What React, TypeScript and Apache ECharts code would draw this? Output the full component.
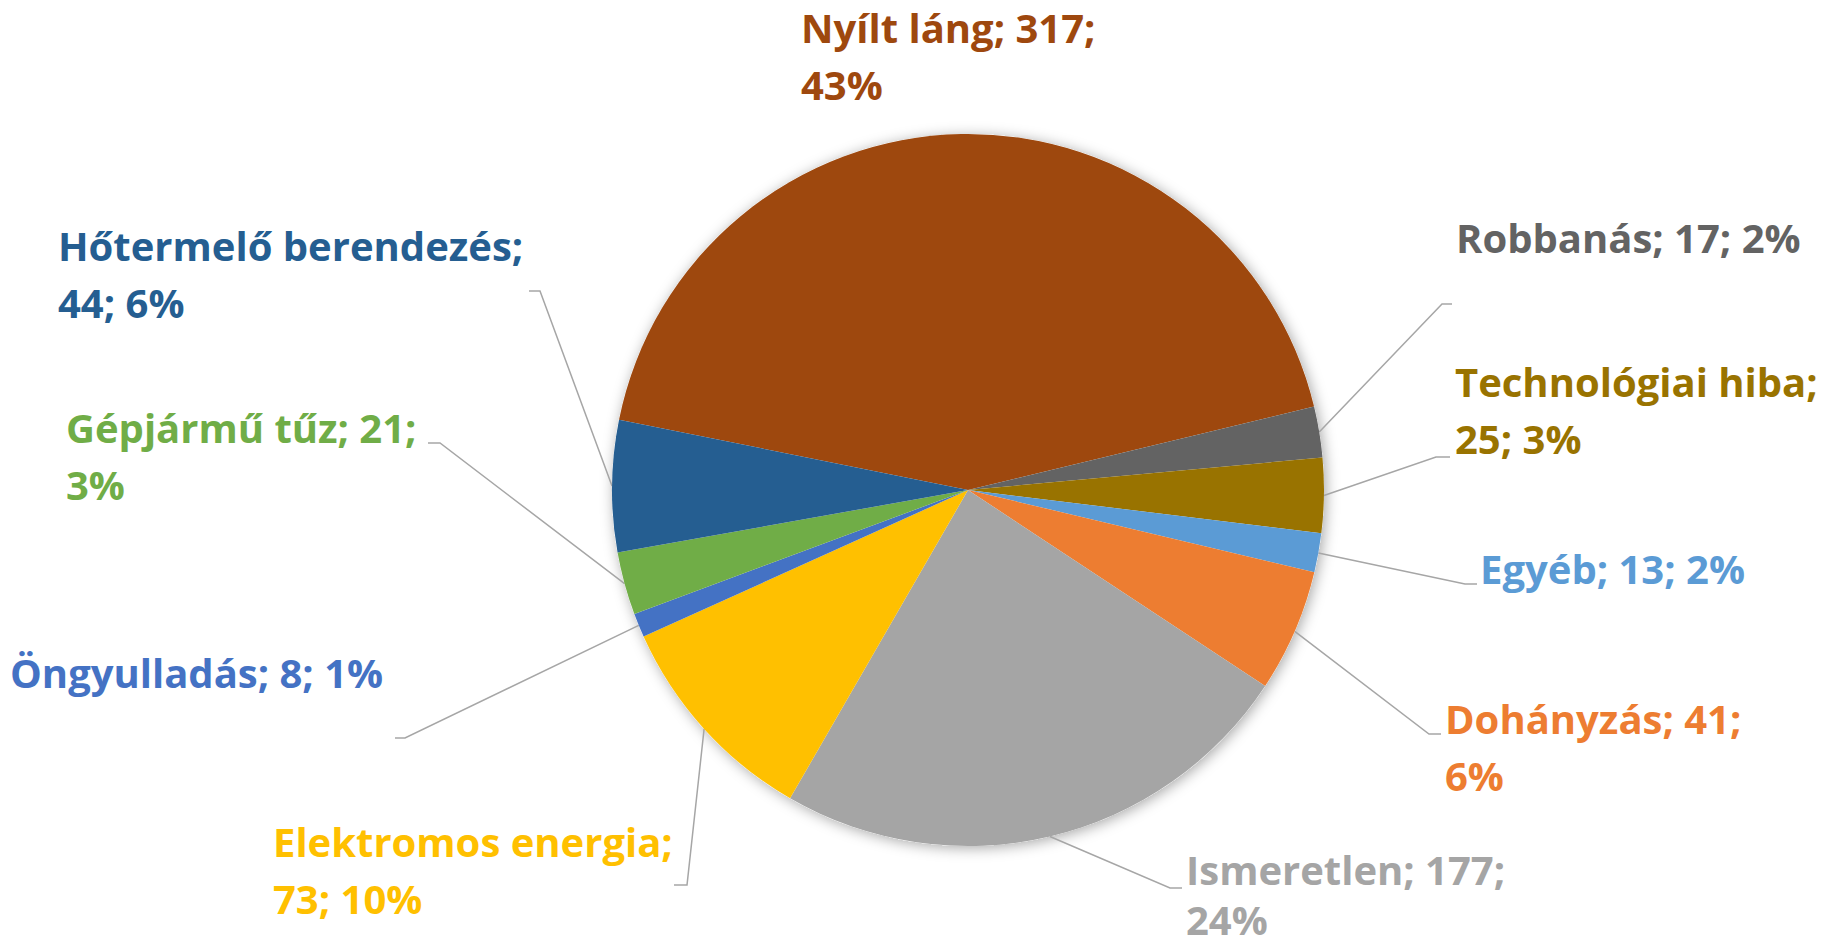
import React, { useEffect, useRef } from 'react';
import * as echarts from 'echarts';

// ---- data ----
const categories = [
  'Nyílt láng',
  'Robbanás',
  'Technológiai hiba',
  'Egyéb',
  'Dohányzás',
  'Ismeretlen',
  'Elektromos energia',
  'Öngyulladás',
  'Gépjármű tűz',
  'Hőtermelő berendezés',
];
const values = [317, 17, 25, 13, 41, 177, 73, 8, 21, 44];
const colors = [
  '#9E480E',
  '#636363',
  '#997300',
  '#5B9BD5',
  '#ED7D31',
  '#A5A5A5',
  '#FFC000',
  '#4472C4',
  '#70AD47',
  '#255E91',
];

// ---- layout (label placement, not data) ----
// brk: where the label wraps: 'name' = after name, 'value' = after value, 'none'
// lh: optional [first line height, second line height]
type LabelPos = {
  x: number;
  base: number;
  brk: 'name' | 'value' | 'none';
  bend?: number[];
  end?: number[];
  lh?: number[];
};
const labelPos: LabelPos[] = [
  { x: 801, base: 43, brk: 'value' },
  { x: 1456, base: 253, brk: 'none', bend: [1442, 304], end: [1452, 304] },
  { x: 1455, base: 397, brk: 'name', bend: [1436, 457], end: [1450, 457] },
  { x: 1480, base: 584, brk: 'none', bend: [1465, 584], end: [1477, 584] },
  { x: 1445, base: 734, brk: 'value', bend: [1429, 734], end: [1441, 734] },
  { x: 1186, base: 885, brk: 'value', bend: [1170, 888], end: [1182, 888], lh: [60, 40] },
  { x: 273, base: 857, brk: 'name', bend: [687, 885], end: [674, 885] },
  { x: 10, base: 688, brk: 'none', bend: [405, 738], end: [395, 738] },
  { x: 66, base: 443, brk: 'value', bend: [440, 443], end: [428, 443] },
  { x: 58, base: 261, brk: 'name', bend: [540, 291], end: [529, 291] },
];

const CX = 968;
const CY = 490;
const R = 356;
const START_ANGLE = 168.6;
const FONT_SIZE = 40;
const LINE_HEIGHT = 57;
const CENTRAL = 0.388 * FONT_SIZE;

function edgePoint(i: number): number[] {
  const total = values.reduce((a, b) => a + b, 0);
  let before = 0;
  for (let k = 0; k < i; k++) before += values[k];
  const mid = START_ANGLE - ((before + values[i] / 2) / total) * 360;
  const rad = (mid * Math.PI) / 180;
  return [CX + R * Math.cos(rad), CY - R * Math.sin(rad)];
}

export default function App() {
  const ref = useRef<HTMLDivElement>(null);
  useEffect(() => {
    const chart = echarts.init(ref.current!, null, { renderer: 'svg' });
    const total = values.reduce((a, b) => a + b, 0);
    const textBase = {
      fontFamily: '"Open Sans"',
      fontWeight: 'bold' as const,
      fontSize: FONT_SIZE,
    };
    const data = categories.map((name, i) => {
      const lp = labelPos[i];
      const label: any = { color: colors[i] };
      if (lp.lh) {
        label.rich = {
          a: { ...textBase, color: colors[i], lineHeight: lp.lh[0] },
          b: { ...textBase, color: colors[i], lineHeight: lp.lh[1] },
        };
      }
      return {
        name,
        value: values[i],
        itemStyle: { color: colors[i] },
        label,
        labelLine: { show: !!lp.bend },
      };
    });
    chart.setOption({
      animation: false,
      backgroundColor: '#ffffff',
      graphic: [
        {
          type: 'circle',
          silent: true,
          z: 0,
          shape: { cx: CX, cy: CY, r: R },
          style: {
            fill: '#ffffff',
            shadowBlur: 14,
            shadowColor: 'rgba(0,0,0,0.35)',
            shadowOffsetX: 2,
            shadowOffsetY: 2,
          },
        },
      ],
      series: [
        {
          type: 'pie',
          center: [CX, CY],
          radius: R,
          startAngle: START_ANGLE,
          clockwise: true,
          avoidLabelOverlap: false,
          data,
          itemStyle: { borderWidth: 0 },
          label: {
            show: true,
            position: 'outside',
            ...textBase,
            lineHeight: LINE_HEIGHT,
            formatter: (p: any) => {
              const pct = Math.round((p.value / total) * 100);
              const lp = labelPos[p.dataIndex];
              let l1: string;
              let l2: string | null;
              if (lp.brk === 'name') {
                l1 = `${p.name};`;
                l2 = `${p.value}; ${pct}%`;
              } else if (lp.brk === 'value') {
                l1 = `${p.name}; ${p.value};`;
                l2 = `${pct}%`;
              } else {
                l1 = `${p.name}; ${p.value}; ${pct}%`;
                l2 = null;
              }
              if (lp.lh && l2 !== null) return `{a|${l1}}\n{b|${l2}}`;
              return l2 === null ? l1 : `${l1}\n${l2}`;
            },
          },
          labelLine: {
            show: true,
            length: 10,
            length2: 10,
            lineStyle: { color: '#A6A6A6', width: 1.5 },
          },
          labelLayout: (params: any) => {
            const i = params.dataIndex;
            const lp = labelPos[i];
            const firstLh = lp.lh ? lp.lh[0] : LINE_HEIGHT;
            const res: any = {
              x: lp.x,
              y: lp.base - firstLh / 2 - CENTRAL,
              align: 'left',
              verticalAlign: 'top',
            };
            if (lp.bend && lp.end) {
              const p0 =
                params.labelLinePoints && params.labelLinePoints[0]
                  ? params.labelLinePoints[0]
                  : edgePoint(i);
              res.labelLinePoints = [p0, lp.bend, lp.end];
            }
            return res;
          },
        },
      ],
    });
    return () => chart.dispose();
  }, []);
  return (
    <div
      ref={ref}
      style={{ position: 'fixed', left: 0, top: 0, width: 1833, height: 950, background: '#fff' }}
    />
  );
}
